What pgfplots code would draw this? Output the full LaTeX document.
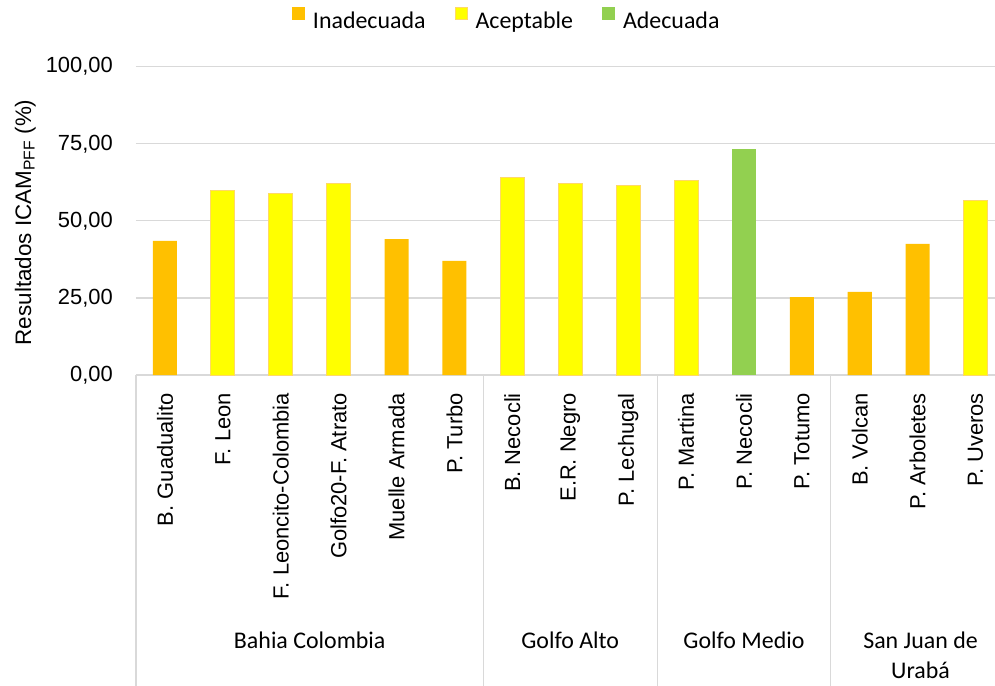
\documentclass[border=0pt]{standalone}
\usepackage{pgfplots}
\pgfplotsset{compat=1.18}
\usepackage{fontspec}
\setmainfont{Carlito}
\newfontfamily\arialf{Liberation Sans}
\definecolor{inad}{HTML}{FFC000}
\definecolor{acep}{HTML}{FFFF00}
\definecolor{acepedge}{HTML}{FFD966}
\definecolor{adec}{HTML}{92D050}
\definecolor{gridc}{HTML}{D9D9D9}
\begin{document}
\begin{tikzpicture}
\path[use as bounding box] (-136bp,-311bp) rectangle (859bp,375bp);
\begin{axis}[
  at={(0,0)}, anchor=south west,
  scale only axis, width=859bp, height=308.3bp,
  clip=false,
  xmin=-0.5, xmax=14.336, ymin=0, ymax=100,
  axis x line*=bottom, axis y line*=left,
  x axis line style={draw=gridc, line width=1.2bp},
  y axis line style={draw=none},
  major tick length=0pt,
  ytick={0,25,50,75,100},
  yticklabels={{0,00},{25,00},{50,00},{75,00},{100,00}},
  ymajorgrids, grid style={draw=gridc, line width=1.2bp},
  xtick={0,...,14},
  xticklabels={B. Guadualito, F. Leon, F. Leoncito-Colombia, Golfo20-F. Atrato, Muelle Armada, P. Turbo, B. Necocli, E.R. Negro, P. Lechugal, P. Martina, P. Necocli, P. Totumo, B. Volcan, P. Arboletes, P. Uveros},
  xticklabel style={font=\arialf\fontsize{22}{26}\selectfont, yshift=-18bp, rotate=90, anchor=east, inner sep=0pt},
  yticklabel style={font=\arialf\fontsize{22}{26}\selectfont, xshift=-23bp, anchor=east, inner sep=0pt},
  ylabel={Resultados ICAM\textsubscript{PFF} (\%)},
  every axis y label/.style={font=\arialf\fontsize{22.5}{26}\selectfont, at={(rel axis cs:-0.1222,0.495)}, anchor=base, rotate=90, inner sep=0pt},
  legend style={at={(rel axis cs:0.1816,1.1563)}, anchor=west, draw=none, fill=none, inner sep=0pt, outer sep=0pt,
    font=\fontsize{24}{28}\selectfont, nodes={inner sep=0pt},
    /tikz/every odd column/.append style={column sep=8bp},
    /tikz/every even column/.append style={column sep=29bp}},
  legend columns=3, legend cell align=left,
]
\addplot[ybar, bar width=0.415, bar shift=0pt, fill=inad, draw=none,
  legend image code/.code={\fill[inad] (0bp,1.5bp) rectangle (13bp,14.5bp);}]
  coordinates {(0,43.5) (4,44.1) (5,37.0) (11,25.3) (12,27.0) (13,42.5)};
\addlegendentry{Inadecuada}
\addplot[ybar, bar width=0.415, bar shift=0pt, fill=acep, draw=acepedge, line width=1bp,
  legend image code/.code={\filldraw[fill=acep, draw=acepedge, line width=1bp] (0.5bp,2bp) rectangle (12.5bp,14bp);}]
  coordinates {(1,60.0) (2,58.9) (3,62.2) (6,63.9) (7,62.2) (8,61.5) (9,63.2) (14,56.7)};
\addlegendentry{Aceptable}
\addplot[ybar, bar width=0.415, bar shift=0pt, fill=adec, draw=none,
  legend image code/.code={\fill[adec] (0bp,1.5bp) rectangle (13bp,14.5bp);}]
  coordinates {(10,73.3)};
\addlegendentry{Adecuada}
\draw[gridc, line width=1.2bp] (axis cs:-0.5,0) -- ([yshift=-311bp]axis cs:-0.5,0);
\draw[gridc, line width=1.2bp] (axis cs:5.5,0) -- ([yshift=-311bp]axis cs:5.5,0);
\draw[gridc, line width=1.2bp] (axis cs:8.5,0) -- ([yshift=-311bp]axis cs:8.5,0);
\draw[gridc, line width=1.2bp] (axis cs:11.5,0) -- ([yshift=-311bp]axis cs:11.5,0);
\node[anchor=base, font=\fontsize{24}{28}\selectfont, yshift=-273bp] at (axis cs:2.5,0) {Bahia Colombia};
\node[anchor=base, font=\fontsize{24}{28}\selectfont, yshift=-273bp] at (axis cs:7,0) {Golfo Alto};
\node[anchor=base, font=\fontsize{24}{28}\selectfont, yshift=-273bp] at (axis cs:10,0) {Golfo Medio};
\node[anchor=base, font=\fontsize{24}{28}\selectfont, yshift=-273bp] at (axis cs:13.05,0) {San Juan de};
\node[anchor=base, font=\fontsize{24}{28}\selectfont, yshift=-303bp] at (axis cs:13.05,0) {Urabá};
\end{axis}
\end{tikzpicture}
\end{document}
